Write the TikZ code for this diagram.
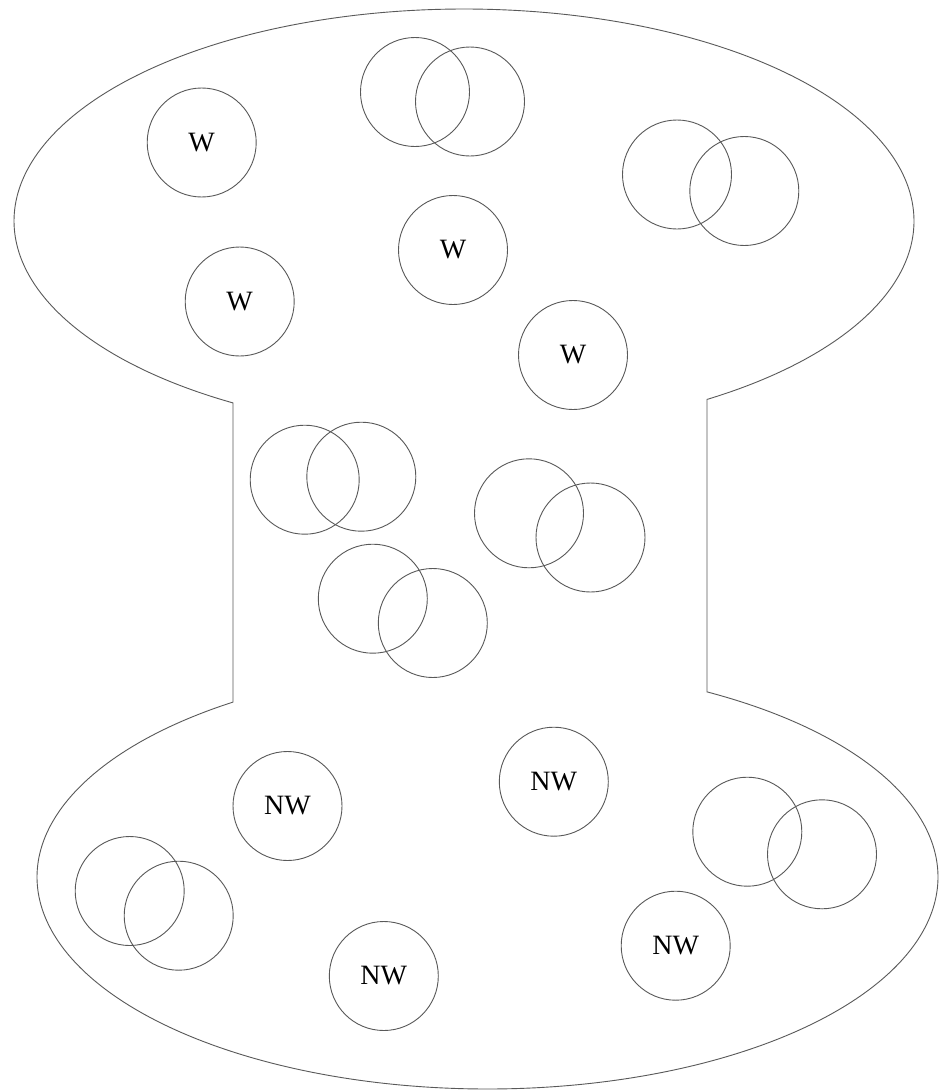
\documentclass[tikz,border=0pt]{standalone}
\usepackage{fontspec}
\setmainfont{Liberation Serif}
\begin{document}
\begin{tikzpicture}[x=1pt,y=-1pt,
  ring/.style={circle,draw=black!65,line width=0.9pt,minimum size=109pt,inner sep=0pt,
    font=\fontsize{28}{32}\selectfont},
  outline/.style={draw=black!65,line width=0.9pt}]
\useasboundingbox[fill=white] (0,0) rectangle (942,1092);
% outer outline: top ellipse, neck, bottom ellipse
\draw[outline]
  plot[domain=120.88:417.32,samples=400] ({464+450*cos(\x)},{221+212*sin(\x)})
  -- plot[domain=-60.84:235.6,samples=400] ({487.5+450.5*cos(\x)},{877+212*sin(\x)})
  -- cycle;
% labelled circles
\node[ring] (w1) at (201.7,142.5) {W};
\node[ring] (w2) at (239.7,301.5) {W};
\node[ring] (w3) at (453,250) {W};
\node[ring] (w4) at (573,355) {W};
\node[ring] (nw1) at (287.5,806) {NW};
\node[ring] (nw2) at (383.8,976) {NW};
\node[ring] (nw3) at (553.8,781.7) {NW};
\node[ring] (nw4) at (675.7,945.7) {NW};
% overlapping pairs
\node[ring] (t1a) at (415,92) {};
\node[ring] (t1b) at (470,101.5) {};
\node[ring] (t2a) at (677,174.5) {};
\node[ring] (t2b) at (744.3,191) {};
\node[ring] (aa) at (304.7,479.7) {};
\node[ring] (ab) at (361.3,476.7) {};
\node[ring] (ba) at (529,513.3) {};
\node[ring] (bb) at (590.5,537.5) {};
\node[ring] (ca) at (372.8,598.7) {};
\node[ring] (cb) at (432.8,623) {};
\node[ring] (la) at (129.7,891) {};
\node[ring] (lb) at (178.7,915.7) {};
\node[ring] (ra) at (747.3,831.7) {};
\node[ring] (rb) at (822,854.3) {};
\end{tikzpicture}
\end{document}
